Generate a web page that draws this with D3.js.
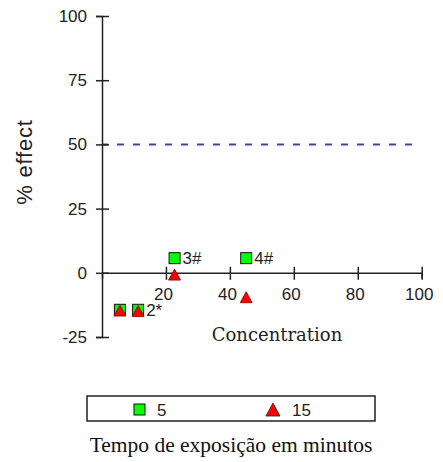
<!DOCTYPE html>
<html>
<head>
<meta charset="utf-8">
<script src="https://cdn.jsdelivr.net/npm/d3@7"></script>
<style>
  body { margin: 0; background: #fff; }
  svg { display: block; }
</style>
</head>
<body>
<svg id="chart" width="443" height="462"></svg>
<script>
// exposure time series
const concentration = [5.6, 11.3, 22.7, 45.1];
const effect5 = [-14.4, -14.4, 5.7, 5.7];
const effect15 = [-14.9, -15.1, -0.9, -9.7];
const labels5 = ["", "2*", "3#", "4#"];
const xTicks = [20, 40, 60, 80, 100];
const yTicks = [-25, 0, 25, 50, 75, 100];
const seriesNames = ["5", "15"];
const halfLine = 50;

const svg = d3.select("#chart");

const x = d3.scaleLinear().domain([0, 100]).range([102, 421.7]);
const y = d3.scaleLinear().domain([-25, 100]).range([337, 16]);

const tickFont = "'Liberation Sans', Arial, sans-serif";

// dashed 50% line
svg.append("line")
    .attr("x1", x(0)).attr("x2", x(98))
    .attr("y1", y(halfLine)).attr("y2", y(halfLine))
    .attr("stroke", "#4444a6")
    .attr("stroke-width", 2)
    .attr("stroke-dasharray", "7,9")
    .attr("stroke-dashoffset", 1);

// y axis
const yAxis = svg.append("g")
    .attr("transform", `translate(${x(0)},0)`)
    .call(d3.axisLeft(y).tickValues(yTicks).tickFormat(d => String(d))
        .tickSizeOuter(0).tickSize(6).tickPadding(9));
yAxis.selectAll(".tick line").attr("x1", 7).attr("x2", -6);
yAxis.selectAll("path, line").attr("stroke", "#222").attr("stroke-width", 1.5);
yAxis.selectAll("text")
    .attr("font-family", tickFont).attr("font-size", 17).attr("fill", "#222");

// x axis sits at y = 0
const xAxis = svg.append("g")
    .attr("transform", `translate(0,${y(0)})`)
    .call(d3.axisBottom(x).tickValues(xTicks).tickFormat(d => String(d))
        .tickSizeOuter(0).tickSize(6));
xAxis.selectAll(".tick line").attr("y1", -6).attr("y2", 7);
xAxis.selectAll("path, line").attr("stroke", "#222").attr("stroke-width", 1.5);
xAxis.selectAll("text")
    .attr("font-family", tickFont).attr("font-size", 17).attr("fill", "#222")
    .attr("y", 27).attr("dy", 0).attr("dx", -3);

const triPath = "M0,-6L6,5L-6,5Z";

// 15 minutes: red triangles
svg.selectAll("path.tri")
    .data(concentration)
    .enter()
    .append("path")
    .attr("class", "tri")
    .attr("d", triPath)
    .attr("transform", (d, i) => `translate(${x(d)},${y(effect15[i])})`)
    .attr("fill", "#ff0000")
    .attr("stroke", "#7a0000")
    .attr("stroke-width", 0.8);

// 5 minutes: green squares, kept behind the triangles
svg.selectAll("rect.sq")
    .data(concentration)
    .enter()
    .insert("rect", "path.tri")
    .attr("class", "sq")
    .attr("x", d => x(d) - 5.5)
    .attr("y", (d, i) => y(effect5[i]) - 5.5)
    .attr("width", 11)
    .attr("height", 11)
    .attr("fill", "#00ff00")
    .attr("stroke", "#111")
    .attr("stroke-width", 1);

svg.selectAll("text.ptlabel")
    .data(concentration)
    .enter()
    .append("text")
    .attr("class", "ptlabel")
    .attr("x", d => x(d) + 8)
    .attr("y", (d, i) => y(effect5[i]) + 6)
    .attr("font-family", tickFont)
    .attr("font-size", 17)
    .attr("fill", "#222")
    .text((d, i) => labels5[i]);

// axis titles
svg.append("text")
    .attr("transform", "translate(32,162) rotate(-90)")
    .attr("text-anchor", "middle")
    .attr("font-family", tickFont)
    .attr("font-size", 22)
    .attr("letter-spacing", 0.8)
    .attr("fill", "#222")
    .text("% effect");

svg.append("text")
    .attr("x", 277).attr("y", 341)
    .attr("text-anchor", "middle")
    .attr("font-family", "'DejaVu Serif', serif")
    .attr("font-size", 18)
    .attr("fill", "#222")
    .text("Concentration");

// legend
const legend = svg.append("g");
legend.append("rect")
    .attr("x", 87).attr("y", 396).attr("width", 288).attr("height", 25)
    .attr("fill", "#fff").attr("stroke", "#222").attr("stroke-width", 1.5);

legend.append("rect")
    .attr("x", 134).attr("y", 404).attr("width", 11).attr("height", 11)
    .attr("fill", "#00ff00").attr("stroke", "#111");
legend.append("path")
    .attr("d", "M0,-7L7,6L-7,6Z")
    .attr("transform", "translate(273,410)")
    .attr("fill", "#ff0000").attr("stroke", "#222").attr("stroke-width", 0.8);

legend.selectAll("text")
    .data(seriesNames)
    .enter()
    .append("text")
    .attr("x", (d, i) => i === 0 ? 157 : 292)
    .attr("y", 416)
    .attr("font-family", tickFont)
    .attr("font-size", 17)
    .attr("fill", "#222")
    .text(d => d);

svg.append("text")
    .attr("x", 231).attr("y", 452)
    .attr("text-anchor", "middle")
    .attr("font-family", "'Liberation Serif', 'Times New Roman', serif")
    .attr("font-size", 21.5)
    .attr("fill", "#111")
    .text("Tempo de exposição em minutos");
</script>
</body>
</html>
